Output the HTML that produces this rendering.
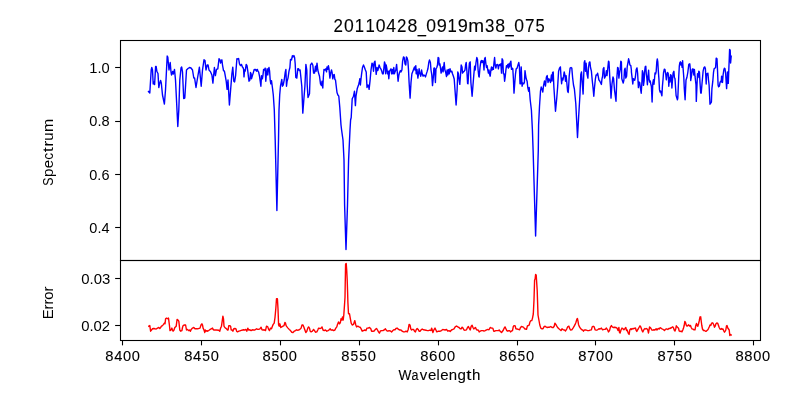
<!DOCTYPE html><html><head><meta charset="utf-8"><title>20110428_0919m38_075</title><style>html,body{margin:0;padding:0;background:#fff;overflow:hidden;}svg{display:block;}text{font-family:"Liberation Sans",sans-serif;fill:#000;}</style></head><body>
<svg width="800" height="400" viewBox="0 0 800 400" style="will-change:transform">
<rect width="800" height="400" fill="#fff"/>
<defs><clipPath id="c1"><rect x="120" y="40" width="640" height="220"/></clipPath><clipPath id="c2"><rect x="120" y="260" width="640" height="80"/></clipPath></defs>
<polyline clip-path="url(#c1)" fill="none" stroke="#0000ff" stroke-width="1.4" stroke-linejoin="round" stroke-linecap="square" points="148.5,91.5 149.8,93.0 151.2,70.0 151.8,67.5 152.5,70.0 153.2,84.0 154.0,82.0 154.6,84.5 155.6,66.5 156.2,66.5 156.9,71.5 158.0,73.5 158.8,87.5 159.5,84.0 160.6,80.5 161.3,83.0 162.5,95.0 164.4,104.0 165.5,90.0 167.2,56.0 167.8,57.0 169.0,70.0 170.2,62.5 171.0,72.0 171.5,75.0 172.6,71.5 173.3,74.0 174.5,69.5 175.5,80.0 176.5,100.0 177.8,126.5 178.8,110.0 179.8,80.0 181.0,68.0 181.7,67.0 182.5,72.0 183.7,98.5 184.8,98.0 185.6,85.0 186.5,70.0 188.0,68.5 189.5,67.5 191.0,68.0 192.5,70.0 193.8,78.0 194.6,78.0 196.0,87.5 197.2,80.0 199.4,67.2 201.2,86.2 202.5,70.0 204.0,59.8 205.0,60.6 206.0,70.0 207.2,65.0 208.1,65.0 209.0,70.0 210.6,71.9 211.9,75.0 212.9,83.1 214.4,67.5 215.4,75.6 216.5,69.4 217.8,68.8 219.0,58.8 220.0,60.0 220.6,63.0 221.9,59.8 222.5,65.0 223.5,70.6 224.4,71.2 225.0,74.4 226.2,81.2 227.1,89.4 228.0,80.0 229.4,105.0 231.9,73.8 232.8,67.2 233.8,81.2 234.6,81.9 235.6,75.6 236.9,58.8 237.9,59.0 238.6,58.5 239.5,63.8 240.5,65.6 241.5,64.4 242.4,66.9 243.0,67.5 243.6,69.4 244.0,76.9 244.6,70.0 245.2,71.2 246.2,64.4 247.0,65.6 247.8,71.2 248.5,77.5 249.0,81.2 249.9,80.0 250.5,72.5 251.1,73.8 251.5,78.8 252.4,75.6 253.2,73.1 254.2,69.4 255.1,70.0 255.8,69.4 256.5,71.2 257.4,69.4 258.0,71.2 258.6,71.9 259.5,76.2 260.2,81.2 260.9,86.2 261.5,75.6 262.4,78.8 263.0,75.0 263.6,69.4 264.5,70.0 265.2,68.1 265.8,81.2 266.5,72.5 267.1,68.8 267.8,75.0 268.4,69.4 269.0,67.5 269.6,71.2 270.2,80.0 270.8,83.8 271.5,80.6 272.4,87.5 273.3,95.0 274.3,110.0 275.2,140.0 276.9,210.5 278.5,140.0 279.0,110.0 279.7,95.0 280.5,86.0 281.8,79.4 282.4,86.2 283.2,85.0 284.2,80.0 285.2,72.5 285.9,69.4 286.5,86.2 287.1,81.2 288.0,78.1 289.0,71.2 289.9,67.5 290.5,59.4 291.5,60.0 292.4,55.6 293.0,56.9 293.9,55.6 294.6,57.5 295.2,63.8 295.8,77.5 296.8,78.1 297.8,68.8 298.6,68.8 299.2,70.6 300.1,70.0 300.9,77.5 301.8,86.2 302.8,113.1 304.0,97.5 304.9,86.2 305.9,64.4 306.8,70.0 307.2,85.0 308.0,97.5 309.5,93.8 310.5,65.0 311.8,63.1 312.8,65.0 313.6,73.1 314.5,73.1 315.5,66.2 316.1,71.2 317.0,63.1 317.8,70.0 318.6,73.1 319.5,76.2 320.5,83.8 321.5,85.6 322.0,81.2 322.8,88.0 323.4,76.2 324.0,69.4 324.9,70.0 325.8,68.8 326.5,71.9 327.0,66.9 327.8,69.4 328.4,65.6 329.0,68.8 329.9,78.1 330.5,73.8 331.5,70.0 332.1,72.5 332.8,78.8 333.6,75.0 334.2,74.4 334.9,79.4 335.5,80.0 336.2,86.0 337.0,92.5 337.9,95.0 338.8,96.2 339.8,107.5 341.0,125.0 341.6,130.0 343.0,140.0 344.0,160.0 344.6,205.0 346.0,249.5 347.5,205.0 348.6,160.0 350.0,130.0 350.6,120.0 351.2,117.5 352.2,98.8 353.5,96.2 354.5,91.2 355.4,105.6 356.0,96.2 357.2,88.8 358.5,85.0 359.1,83.0 359.8,78.8 360.4,85.0 361.0,79.0 361.6,73.8 362.5,67.5 363.5,65.0 364.5,67.5 365.4,70.0 366.2,71.9 367.0,87.5 367.9,85.0 368.5,85.6 369.1,89.4 370.0,81.2 371.0,70.0 372.0,63.1 372.9,64.4 373.5,71.2 374.2,62.5 375.0,61.2 375.8,70.0 376.2,74.4 377.0,67.5 377.8,70.6 378.5,68.1 379.1,65.0 380.0,67.5 380.8,68.8 381.6,70.6 382.5,73.8 383.2,73.8 383.9,68.1 384.5,61.9 385.1,63.8 385.6,73.8 386.2,65.0 386.9,68.8 387.5,73.8 388.2,71.2 388.8,78.8 389.5,71.2 390.4,70.0 391.0,68.8 391.6,73.8 392.5,69.4 393.1,73.8 393.8,67.5 394.4,73.8 395.0,71.9 395.8,70.0 396.6,64.4 397.2,71.2 398.1,81.2 398.9,75.0 399.5,72.5 400.4,70.6 401.0,71.9 401.9,70.0 402.6,61.2 403.5,56.9 404.2,57.5 405.0,63.8 405.8,65.0 406.4,56.9 407.2,58.1 407.9,61.2 408.5,70.0 409.1,82.5 410.1,98.1 411.0,82.5 411.9,73.8 412.9,71.2 413.8,68.8 414.5,66.9 415.1,70.0 415.8,65.6 416.2,73.8 417.0,69.4 417.9,78.1 418.5,73.8 419.1,68.8 420.0,73.8 420.8,76.2 421.6,70.0 422.2,73.8 423.1,76.2 423.9,75.0 424.8,75.6 425.5,76.9 426.2,74.4 427.0,71.9 427.9,68.8 428.8,62.5 429.5,60.0 430.4,62.5 431.0,70.0 431.8,75.0 432.5,85.6 433.2,78.8 433.9,68.1 434.5,68.0 435.4,82.5 436.0,68.8 436.8,67.5 437.5,65.0 438.1,57.5 438.8,58.1 439.2,65.0 439.9,63.8 440.5,68.1 441.1,73.1 441.8,70.0 442.5,66.9 443.1,71.9 443.8,65.6 444.2,62.5 444.9,70.0 445.6,71.9 446.5,76.5 447.1,70.0 447.8,75.0 448.5,69.4 449.2,73.8 450.0,68.8 450.9,71.9 451.8,71.2 452.5,73.8 453.4,76.2 454.2,79.0 455.0,90.0 456.1,105.0 457.1,90.0 457.8,71.9 458.4,73.8 459.0,78.8 459.8,84.4 460.5,75.0 461.2,65.0 462.0,66.9 462.5,73.1 463.4,71.9 464.2,71.2 465.0,70.0 465.6,65.0 466.2,62.5 466.9,71.2 467.6,83.5 468.0,83.8 468.8,70.0 469.4,63.1 470.2,61.9 470.9,82.5 472.1,96.2 473.0,85.0 473.8,75.0 474.6,66.2 475.2,70.0 476.0,62.5 476.8,57.5 477.5,59.4 478.1,70.0 478.8,76.5 479.2,76.9 480.0,67.5 480.9,61.2 481.5,60.6 482.1,62.5 482.8,60.6 483.4,61.9 484.0,70.0 484.6,58.8 485.2,57.5 485.9,63.8 486.5,67.5 487.1,65.6 487.8,70.0 488.4,73.1 489.0,70.0 489.6,74.4 490.2,76.2 490.9,70.0 491.5,66.9 492.1,70.0 492.8,67.5 493.4,69.4 494.0,62.5 494.6,57.5 495.2,65.0 495.9,68.1 496.5,65.0 497.1,64.4 497.8,65.0 498.4,68.8 499.0,65.0 499.6,64.4 500.2,65.6 500.9,63.8 501.5,73.1 502.1,58.8 502.8,60.0 503.4,73.8 504.0,73.8 504.6,81.2 505.2,76.9 505.9,70.0 506.5,65.6 507.1,66.9 507.8,64.4 508.4,68.1 509.0,63.8 509.6,66.9 510.2,62.5 510.9,61.2 511.5,69.4 512.1,68.1 512.8,68.8 513.4,78.8 514.0,93.1 514.8,82.5 515.5,73.8 516.2,68.8 517.1,68.1 518.0,65.0 518.8,62.5 519.4,66.2 520.0,83.8 520.6,83.8 521.2,66.9 521.9,82.5 522.1,86.2 522.9,83.0 523.8,83.8 524.4,82.5 525.0,70.6 525.6,75.0 526.2,78.8 527.1,81.2 527.8,87.5 528.6,91.2 529.2,87.5 530.2,100.0 531.4,110.0 532.4,130.0 533.1,150.0 535.6,236.0 538.3,150.0 538.6,125.0 539.5,106.2 540.5,91.0 541.2,87.0 542.0,89.0 542.8,92.0 543.5,86.0 544.5,81.0 545.5,86.0 546.4,77.0 547.2,75.6 548.0,82.5 548.9,78.8 549.8,80.6 550.5,82.5 551.4,75.0 552.0,81.0 552.6,72.5 553.2,71.9 553.9,87.5 555.5,111.2 556.8,97.5 557.6,87.5 557.9,82.5 558.6,71.2 559.5,68.1 560.4,66.9 561.0,76.2 561.6,83.8 562.2,78.1 562.9,80.0 563.6,76.2 564.2,71.9 564.9,75.0 565.5,81.2 566.1,75.6 566.8,82.5 567.6,91.2 568.2,92.5 568.6,87.5 569.2,76.2 570.1,68.1 571.0,67.5 571.8,68.1 572.6,77.5 573.5,85.0 574.4,89.0 575.8,103.8 577.5,137.5 578.6,117.5 580.0,94.0 580.4,83.8 580.8,74.4 581.5,71.9 582.2,82.5 583.1,94.1 583.6,78.8 584.2,62.5 584.8,60.6 585.5,71.2 586.1,63.1 587.0,73.8 587.9,78.1 588.5,67.5 589.2,62.5 589.9,61.9 590.5,67.5 591.4,71.2 592.2,80.0 593.0,87.5 593.8,96.2 594.5,87.5 595.4,78.8 596.1,75.0 597.0,75.0 597.6,73.1 598.2,76.2 598.9,80.0 599.5,80.6 600.5,82.5 601.4,84.4 602.0,78.8 602.6,76.2 603.2,68.8 603.9,67.5 604.5,78.1 605.1,76.9 605.8,75.0 606.4,70.6 607.0,75.6 607.6,70.0 608.5,61.2 609.0,61.9 609.8,77.5 610.5,87.5 611.0,98.1 612.0,83.8 613.0,76.9 613.6,78.8 614.5,90.0 616.0,101.2 616.8,78.8 617.6,67.5 618.2,68.1 618.9,78.1 619.5,73.1 620.2,69.4 620.8,61.2 621.4,61.9 621.8,78.8 622.6,81.2 623.2,83.1 623.9,80.0 624.5,70.0 625.1,68.1 625.8,78.1 626.6,76.2 627.2,66.9 628.0,62.5 628.6,58.8 629.2,61.2 629.9,65.0 630.8,65.6 631.4,70.0 631.4,71.9 632.2,78.6 632.8,84.0 633.4,78.6 634.0,79.5 634.7,80.3 635.4,77.0 636.2,69.6 637.0,67.9 637.6,73.0 638.4,87.6 639.0,82.0 639.7,82.5 640.4,87.6 641.2,93.2 641.8,84.2 642.4,70.8 643.0,73.0 643.5,85.4 644.1,80.9 644.6,71.9 645.2,66.8 645.8,66.2 646.3,74.1 646.9,78.6 647.4,84.8 648.0,76.4 648.6,70.2 649.1,79.2 649.7,82.0 650.2,80.9 650.8,84.0 651.4,86.5 652.1,102.0 652.8,83.1 653.4,79.8 654.0,84.2 654.5,79.0 655.0,73.0 655.6,74.0 656.2,71.3 656.8,61.8 657.3,58.9 657.8,61.8 658.3,70.8 658.9,78.6 659.5,89.9 660.1,92.1 660.7,91.0 661.2,93.2 661.9,95.8 662.4,86.5 663.0,79.8 663.5,73.0 664.3,69.1 665.0,69.6 665.8,74.7 666.3,79.8 666.9,75.0 667.5,72.4 668.2,73.5 668.8,86.2 669.4,77.5 670.0,82.0 670.5,74.7 671.2,75.2 671.9,88.0 672.4,80.9 673.1,73.0 673.9,71.3 674.4,77.5 675.0,78.6 675.5,86.5 676.1,95.5 677.4,99.8 677.8,98.0 678.2,88.8 678.7,77.5 679.3,66.2 679.8,62.9 680.4,61.8 681.0,65.1 681.5,62.9 682.1,67.4 682.6,60.6 683.1,68.5 683.8,77.5 684.3,88.8 685.1,99.8 686.0,80.0 686.9,77.5 687.8,72.5 688.8,64.4 689.8,63.8 690.4,70.0 690.7,80.6 691.5,76.0 692.2,69.4 693.0,68.8 693.8,75.0 694.4,69.4 695.0,76.2 696.0,85.0 696.3,101.4 697.5,73.8 698.1,77.5 698.8,71.2 699.4,71.9 700.0,82.5 700.7,93.0 701.2,93.1 702.1,82.5 703.1,71.2 704.0,67.5 704.8,66.9 705.4,68.8 706.2,84.0 706.6,73.8 707.2,75.0 707.9,73.1 708.5,80.0 709.1,85.0 710.0,104.2 711.4,102.0 711.9,88.8 712.8,81.2 713.5,72.5 714.1,68.8 715.0,68.1 715.6,67.5 716.2,58.1 717.0,58.8 717.5,70.0 718.1,85.0 718.6,86.8 719.4,86.2 720.0,82.5 720.6,81.2 721.2,81.9 721.6,76.2 722.1,81.8 722.5,82.5 723.1,75.0 723.8,70.0 724.4,68.1 725.0,68.8 725.6,73.1 726.2,82.5 726.6,88.6 727.1,81.0 727.5,71.9 727.9,76.0 728.3,83.4 728.8,70.0 729.1,62.5 729.6,49.5 730.2,50.2 730.6,63.0 731.2,56.2"/>
<polyline clip-path="url(#c2)" fill="none" stroke="#ff0000" stroke-width="1.4" stroke-linejoin="round" stroke-linecap="square" points="148.8,326.2 149.8,325.6 150.6,331.2 151.5,330.0 152.5,328.8 153.8,328.5 155.0,328.8 156.2,329.0 157.5,328.1 158.8,327.5 159.8,328.5 160.6,327.5 161.5,326.2 162.5,325.6 163.5,324.4 164.4,323.1 165.0,323.8 165.6,318.8 166.5,318.1 167.5,318.8 168.5,318.1 169.4,325.0 170.0,330.6 171.0,330.0 171.9,328.1 172.5,330.0 173.1,331.2 174.0,330.0 174.8,327.5 175.6,326.9 176.2,326.2 177.1,319.4 177.9,320.0 178.8,321.2 179.8,330.0 180.6,331.2 181.9,330.6 182.5,327.5 183.1,325.6 184.4,325.0 185.6,325.0 186.5,330.0 187.5,329.4 188.5,330.6 189.4,330.0 190.4,331.2 191.2,329.4 192.5,328.1 193.8,327.5 195.0,328.8 197.5,328.8 200.0,328.1 201.0,325.0 201.9,323.8 202.5,325.0 203.1,328.1 204.0,330.0 204.8,332.5 205.2,330.0 206.0,331.2 207.0,330.6 207.5,331.2 208.5,330.6 209.4,330.0 210.2,329.4 211.2,328.8 212.5,328.1 213.1,329.4 213.8,330.0 216.2,330.0 218.8,330.2 219.8,331.2 220.6,328.1 221.5,326.2 222.2,321.2 222.9,316.2 223.5,318.8 224.0,326.2 224.8,327.5 225.6,328.1 226.5,328.8 227.5,330.0 228.1,330.0 228.8,325.6 229.8,325.6 230.6,326.2 231.2,330.0 232.2,330.0 232.9,331.2 233.8,328.8 235.0,328.5 236.0,328.8 236.6,331.2 237.5,331.9 238.8,331.2 240.0,330.8 241.8,330.2 243.6,329.8 244.9,330.0 245.8,329.4 246.8,331.2 247.8,328.1 248.6,330.0 249.9,329.8 251.1,330.6 252.4,329.8 253.6,330.0 254.9,330.0 256.5,328.8 257.8,329.4 258.6,329.4 259.9,328.8 261.1,327.2 262.0,329.8 263.0,330.0 264.2,329.8 265.5,330.6 266.5,326.2 267.8,326.9 268.6,329.4 269.5,330.6 270.5,328.1 271.5,328.8 272.4,326.2 273.2,324.4 274.2,323.1 275.0,317.5 275.8,308.8 276.5,298.8 277.4,298.8 278.0,308.8 278.6,325.0 279.2,326.2 279.9,323.8 280.8,327.5 281.8,326.9 283.0,326.2 284.0,325.6 284.9,322.5 285.5,323.1 286.1,325.6 287.0,326.9 288.0,328.1 289.2,329.4 290.5,330.6 291.8,332.2 293.0,332.5 294.2,331.2 295.5,330.6 296.5,329.8 297.4,330.2 298.6,330.0 299.9,329.4 301.1,328.1 302.0,325.0 303.0,325.0 304.0,327.5 304.9,330.0 305.8,332.5 306.8,331.2 307.8,328.1 308.6,326.9 309.5,328.1 310.2,331.2 311.1,331.9 312.4,331.2 313.6,329.4 314.5,330.6 315.5,332.2 316.8,331.9 317.8,330.0 318.6,328.1 319.9,328.5 321.1,328.1 322.0,326.9 323.0,330.0 324.2,330.6 325.5,330.0 326.8,331.2 328.0,330.6 329.2,329.8 330.2,328.8 331.1,330.2 332.4,329.8 333.6,330.6 334.9,330.0 335.8,328.1 336.8,326.9 337.5,324.4 338.5,321.9 339.5,323.8 340.4,322.5 341.0,318.8 341.9,320.0 342.5,316.9 343.2,320.0 343.8,315.0 344.5,305.0 345.0,297.5 345.2,285.0 345.6,264.0 346.2,263.5 346.7,270.0 347.2,280.0 347.6,292.0 347.9,302.5 348.5,313.8 349.5,313.8 350.4,318.8 351.2,323.1 352.2,325.0 353.5,324.4 354.8,320.6 355.8,325.0 356.6,326.9 357.8,326.2 359.1,326.9 360.4,327.5 361.4,329.4 362.2,331.2 363.5,330.6 364.8,330.0 366.0,330.6 367.0,328.1 368.2,328.1 369.5,327.5 370.8,328.8 371.6,331.2 372.9,331.2 374.1,331.0 375.4,329.4 376.6,328.5 377.5,330.0 378.5,331.9 379.4,333.1 380.4,331.0 381.6,330.6 382.9,330.6 384.1,330.0 385.4,328.8 386.6,330.6 387.9,331.2 389.1,330.6 390.4,331.0 391.6,331.9 392.9,330.6 393.8,329.8 395.0,329.8 396.0,328.5 397.2,328.1 398.5,329.4 399.8,330.0 401.0,330.0 402.2,331.2 403.5,331.9 404.8,331.9 406.0,331.2 407.2,331.9 408.2,329.4 409.1,324.4 410.0,325.0 410.8,328.8 411.6,330.0 412.5,329.4 413.5,329.4 414.5,331.2 415.4,331.9 416.2,329.8 417.2,328.5 418.2,329.4 419.1,331.2 420.0,331.2 421.0,330.0 422.2,329.0 423.5,329.8 424.8,330.0 426.0,330.2 427.2,330.6 428.5,330.6 429.8,330.2 431.0,330.6 431.6,328.1 432.2,329.8 432.9,332.5 433.8,330.0 434.5,328.8 435.0,328.1 435.9,330.0 436.8,331.9 438.5,331.2 440.2,331.2 441.5,330.6 442.8,329.4 444.0,329.8 445.2,330.0 446.5,329.4 447.8,331.2 449.0,330.6 450.2,331.5 451.5,330.0 452.8,329.4 454.0,328.8 455.2,326.9 456.5,326.0 457.8,326.9 459.0,327.5 460.2,328.8 461.2,328.8 462.1,327.2 463.0,328.1 464.0,330.0 465.2,330.2 466.5,329.8 467.5,327.5 468.4,326.5 469.2,328.1 470.2,330.0 471.2,326.2 472.1,325.2 473.0,327.5 473.8,329.0 474.6,328.1 475.5,327.5 476.5,329.8 477.5,330.0 478.4,330.2 479.2,331.9 480.2,331.2 481.5,330.6 482.8,330.6 484.0,331.0 485.2,330.6 486.5,329.8 487.8,329.4 489.0,329.8 490.2,327.5 491.5,328.1 492.8,328.1 493.8,331.2 494.6,331.2 495.9,330.6 497.1,330.6 498.4,330.6 499.2,330.0 500.2,331.2 501.5,332.5 502.5,331.2 503.4,330.0 504.2,328.1 505.0,326.9 505.9,328.8 506.8,330.6 507.8,331.2 508.8,330.6 509.6,330.6 510.5,331.9 511.5,331.0 512.5,330.6 513.4,326.2 514.2,325.6 515.2,326.0 515.9,328.8 517.1,329.0 518.4,329.4 519.6,329.8 520.5,327.5 521.5,326.5 522.8,326.9 523.8,327.5 524.6,328.8 525.5,329.0 526.5,329.4 527.5,325.6 528.4,325.6 529.2,325.0 530.0,321.9 530.9,320.6 531.8,320.6 532.5,318.1 533.3,314.0 534.0,300.0 534.6,280.0 535.1,279.0 535.6,274.5 536.2,275.0 537.2,290.5 538.0,315.0 538.9,320.0 539.8,325.0 540.8,328.1 542.0,328.8 543.0,328.8 543.9,326.9 545.1,326.2 546.0,326.9 547.0,327.5 548.2,327.2 549.5,327.2 550.8,326.5 552.0,327.5 553.2,327.5 554.2,326.2 554.9,323.1 555.8,324.4 556.8,326.2 557.6,327.5 558.9,328.8 560.1,329.8 561.0,330.6 562.0,328.8 563.2,329.8 564.5,330.0 565.5,331.0 566.8,328.8 567.6,326.9 568.9,326.2 569.5,328.1 570.5,330.0 571.8,329.8 573.0,328.1 574.2,326.2 575.1,324.4 576.0,322.2 576.8,319.4 577.4,318.5 578.0,321.2 578.5,324.4 579.5,326.9 580.8,328.8 581.8,329.8 582.6,330.0 583.5,331.2 584.2,330.2 585.1,329.8 586.4,330.2 587.6,330.6 588.9,330.6 590.1,330.2 591.4,329.8 592.2,326.9 593.2,326.2 594.2,326.9 595.1,329.8 596.4,330.2 597.6,329.8 598.9,328.8 600.1,329.0 601.4,328.1 602.6,329.8 603.9,329.4 605.1,329.4 606.4,328.1 607.6,329.8 608.5,331.9 609.5,330.6 610.5,326.9 611.4,325.6 612.2,326.9 613.2,327.5 614.5,327.2 615.8,327.5 617.0,328.1 618.0,330.6 618.9,327.5 619.5,332.5 620.1,333.1 621.0,330.0 622.0,328.1 623.0,328.8 623.9,329.8 624.8,328.8 625.8,327.5 626.6,330.6 627.2,330.0 628.2,333.1 629.1,334.4 629.8,330.0 630.8,328.8 631.5,329.5 632.2,328.5 633.0,329.0 634.0,328.2 635.0,328.5 635.5,328.0 636.2,330.5 636.8,331.5 637.5,330.0 638.2,329.0 639.0,327.5 640.0,325.8 640.8,327.0 641.5,329.0 642.2,331.0 642.8,332.0 643.5,330.5 644.2,329.2 645.0,328.5 645.8,329.0 646.5,328.5 647.2,329.0 647.8,330.0 648.5,333.0 649.0,330.0 649.6,327.0 650.2,327.5 651.0,328.5 651.8,330.0 652.5,330.2 653.5,329.8 654.5,330.0 655.5,329.5 656.2,328.8 657.0,330.0 657.8,328.8 658.5,328.5 659.2,329.0 660.0,327.8 660.8,328.0 661.8,328.8 662.8,329.2 663.8,330.0 664.5,330.5 665.2,329.5 666.0,329.0 667.0,329.0 667.8,329.5 668.8,328.5 669.8,328.5 670.8,328.0 671.8,327.5 672.8,326.8 673.5,327.8 674.2,330.0 675.0,331.0 675.7,329.0 676.3,325.8 677.0,326.8 677.8,327.5 678.5,328.2 679.2,331.0 680.0,331.5 681.0,331.2 682.0,331.8 682.8,330.0 683.5,328.0 684.2,325.5 684.8,321.5 685.5,322.5 686.2,325.0 687.0,326.2 688.0,325.5 688.5,324.8 689.5,326.0 690.5,325.5 691.2,327.5 692.0,328.8 693.0,329.2 694.0,329.8 695.0,329.8 695.8,325.5 696.5,323.5 697.2,325.5 697.8,326.2 698.5,324.0 699.2,321.0 700.0,317.0 700.7,316.8 701.2,321.0 701.8,325.5 702.5,329.0 703.5,330.5 704.5,330.5 705.5,331.2 706.2,331.2 707.0,330.5 707.8,329.8 708.5,328.5 709.2,327.0 710.0,325.0 710.8,325.5 711.5,323.5 712.2,322.8 713.0,323.2 713.8,325.0 714.5,327.2 715.2,326.2 715.8,324.0 716.8,323.0 717.8,323.5 718.5,325.5 719.2,327.5 720.0,329.0 720.8,329.2 721.5,328.5 722.2,329.2 723.0,329.0 723.8,331.0 724.5,332.2 725.2,331.2 725.8,330.0 726.5,325.8 727.0,325.5 727.8,328.0 728.5,329.0 729.2,330.0 729.8,335.5 730.5,334.5 731.2,335.0"/>
<g fill="none" stroke="#000" stroke-width="1.1" stroke-linecap="square">
<rect x="120.5" y="40.5" width="640" height="220"/>
<rect x="120.5" y="260.5" width="640" height="80"/>
</g>
<g stroke="#000" stroke-width="1.1">
<line x1="122.50" y1="340.5" x2="122.50" y2="345.36"/>
<line x1="201.50" y1="340.5" x2="201.50" y2="345.36"/>
<line x1="280.50" y1="340.5" x2="280.50" y2="345.36"/>
<line x1="359.50" y1="340.5" x2="359.50" y2="345.36"/>
<line x1="438.50" y1="340.5" x2="438.50" y2="345.36"/>
<line x1="517.50" y1="340.5" x2="517.50" y2="345.36"/>
<line x1="595.50" y1="340.5" x2="595.50" y2="345.36"/>
<line x1="674.50" y1="340.5" x2="674.50" y2="345.36"/>
<line x1="753.50" y1="340.5" x2="753.50" y2="345.36"/>
<line x1="115.14" y1="67.50" x2="120.5" y2="67.50"/>
<line x1="115.14" y1="121.50" x2="120.5" y2="121.50"/>
<line x1="115.14" y1="174.50" x2="120.5" y2="174.50"/>
<line x1="115.14" y1="227.50" x2="120.5" y2="227.50"/>
<line x1="115.14" y1="278.50" x2="120.5" y2="278.50"/>
<line x1="115.14" y1="325.50" x2="120.5" y2="325.50"/>
</g>
<text y="31.58" font-size="17.66" stroke="#000" stroke-width="0.1"><tspan x="333.61" textLength="9.42" lengthAdjust="spacingAndGlyphs">2</tspan><tspan x="344.12" textLength="9.77" lengthAdjust="spacingAndGlyphs">0</tspan><tspan x="354.78" textLength="9.33" lengthAdjust="spacingAndGlyphs">1</tspan><tspan x="365.40" textLength="9.33" lengthAdjust="spacingAndGlyphs">1</tspan><tspan x="375.87" textLength="9.77" lengthAdjust="spacingAndGlyphs">0</tspan><tspan x="386.30" textLength="9.77" lengthAdjust="spacingAndGlyphs">4</tspan><tspan x="396.99" textLength="9.42" lengthAdjust="spacingAndGlyphs">2</tspan><tspan x="407.43" textLength="9.88" lengthAdjust="spacingAndGlyphs">8</tspan><tspan x="417.64" textLength="8.27" lengthAdjust="spacingAndGlyphs">_</tspan><tspan x="426.37" textLength="9.77" lengthAdjust="spacingAndGlyphs">0</tspan><tspan x="436.73" textLength="10.09" lengthAdjust="spacingAndGlyphs">9</tspan><tspan x="447.53" textLength="9.33" lengthAdjust="spacingAndGlyphs">1</tspan><tspan x="457.85" textLength="10.09" lengthAdjust="spacingAndGlyphs">9</tspan><tspan x="468.25" textLength="15.82" lengthAdjust="spacingAndGlyphs">m</tspan><tspan x="485.10" textLength="9.38" lengthAdjust="spacingAndGlyphs">3</tspan><tspan x="495.31" textLength="9.88" lengthAdjust="spacingAndGlyphs">8</tspan><tspan x="505.51" textLength="8.27" lengthAdjust="spacingAndGlyphs">_</tspan><tspan x="514.24" textLength="9.77" lengthAdjust="spacingAndGlyphs">0</tspan><tspan x="524.96" textLength="9.56" lengthAdjust="spacingAndGlyphs">7</tspan><tspan x="535.54" textLength="9.22" lengthAdjust="spacingAndGlyphs">5</tspan></text>
<text transform="translate(52.73,152.49) rotate(-90)" font-size="14.58"><tspan x="-33.31" textLength="8.26" lengthAdjust="spacingAndGlyphs">S</tspan><tspan x="-24.54" textLength="8.40" lengthAdjust="spacingAndGlyphs">p</tspan><tspan x="-15.70" textLength="8.34" lengthAdjust="spacingAndGlyphs">e</tspan><tspan x="-7.27" textLength="6.97" lengthAdjust="spacingAndGlyphs">c</tspan><tspan x="0.17" textLength="5.16" lengthAdjust="spacingAndGlyphs">t</tspan><tspan x="5.76" textLength="5.93" lengthAdjust="spacingAndGlyphs">r</tspan><tspan x="11.77" textLength="8.33" lengthAdjust="spacingAndGlyphs">u</tspan><tspan x="20.38" textLength="13.18" lengthAdjust="spacingAndGlyphs">m</tspan></text>
<text transform="translate(52.74,302.92) rotate(-90)" font-size="14.50" text-anchor="middle" textLength="32.77" lengthAdjust="spacingAndGlyphs">Error</text>
<text y="379.82" font-size="14.58" stroke="#000" stroke-width="0.1"><tspan x="398.39" textLength="12.92" lengthAdjust="spacingAndGlyphs">W</tspan><tspan x="411.61" textLength="6.95" lengthAdjust="spacingAndGlyphs">a</tspan><tspan x="419.86" textLength="7.49" lengthAdjust="spacingAndGlyphs">v</tspan><tspan x="427.91" textLength="8.34" lengthAdjust="spacingAndGlyphs">e</tspan><tspan x="436.58" textLength="3.15" lengthAdjust="spacingAndGlyphs">l</tspan><tspan x="440.29" textLength="8.34" lengthAdjust="spacingAndGlyphs">e</tspan><tspan x="448.81" textLength="8.33" lengthAdjust="spacingAndGlyphs">n</tspan><tspan x="457.60" textLength="8.40" lengthAdjust="spacingAndGlyphs">g</tspan><tspan x="466.15" textLength="5.16" lengthAdjust="spacingAndGlyphs">t</tspan><tspan x="471.90" textLength="8.39" lengthAdjust="spacingAndGlyphs">h</tspan></text>
<text x="99.49" y="72.50" font-size="14.50" text-anchor="middle" textLength="20.40" lengthAdjust="spacingAndGlyphs">1.0</text>
<text x="99.44" y="125.67" font-size="14.50" text-anchor="middle" textLength="20.28" lengthAdjust="spacingAndGlyphs">0.8</text>
<text x="99.39" y="179.51" font-size="14.50" text-anchor="middle" textLength="20.14" lengthAdjust="spacingAndGlyphs">0.6</text>
<text x="99.43" y="232.62" font-size="14.50" text-anchor="middle" textLength="20.17" lengthAdjust="spacingAndGlyphs">0.4</text>
<text x="95.79" y="283.61" font-size="14.50" text-anchor="middle" textLength="29.03" lengthAdjust="spacingAndGlyphs">0.03</text>
<text x="95.68" y="330.55" font-size="14.50" text-anchor="middle" textLength="28.95" lengthAdjust="spacingAndGlyphs">0.02</text>
<text y="360.61" font-size="14.72" stroke="#000" stroke-width="0.1"><tspan x="105.38" textLength="8.23" lengthAdjust="spacingAndGlyphs">8</tspan><tspan x="114.25" textLength="8.14" lengthAdjust="spacingAndGlyphs">4</tspan><tspan x="123.06" textLength="8.14" lengthAdjust="spacingAndGlyphs">0</tspan><tspan x="131.81" textLength="8.14" lengthAdjust="spacingAndGlyphs">0</tspan></text>
<text y="360.57" font-size="14.72" stroke="#000" stroke-width="0.1"><tspan x="184.23" textLength="8.23" lengthAdjust="spacingAndGlyphs">8</tspan><tspan x="193.10" textLength="8.14" lengthAdjust="spacingAndGlyphs">4</tspan><tspan x="202.15" textLength="7.68" lengthAdjust="spacingAndGlyphs">5</tspan><tspan x="210.65" textLength="8.14" lengthAdjust="spacingAndGlyphs">0</tspan></text>
<text y="360.71" font-size="14.72" stroke="#000" stroke-width="0.1"><tspan x="262.43" textLength="8.23" lengthAdjust="spacingAndGlyphs">8</tspan><tspan x="271.60" textLength="7.68" lengthAdjust="spacingAndGlyphs">5</tspan><tspan x="280.10" textLength="8.14" lengthAdjust="spacingAndGlyphs">0</tspan><tspan x="288.85" textLength="8.14" lengthAdjust="spacingAndGlyphs">0</tspan></text>
<text y="360.65" font-size="14.72" stroke="#000" stroke-width="0.1"><tspan x="341.26" textLength="8.23" lengthAdjust="spacingAndGlyphs">8</tspan><tspan x="350.43" textLength="7.68" lengthAdjust="spacingAndGlyphs">5</tspan><tspan x="359.18" textLength="7.68" lengthAdjust="spacingAndGlyphs">5</tspan><tspan x="367.68" textLength="8.14" lengthAdjust="spacingAndGlyphs">0</tspan></text>
<text y="360.55" font-size="14.72" stroke="#000" stroke-width="0.1"><tspan x="420.34" textLength="8.23" lengthAdjust="spacingAndGlyphs">8</tspan><tspan x="429.07" textLength="8.43" lengthAdjust="spacingAndGlyphs">6</tspan><tspan x="438.14" textLength="8.14" lengthAdjust="spacingAndGlyphs">0</tspan><tspan x="446.89" textLength="8.14" lengthAdjust="spacingAndGlyphs">0</tspan></text>
<text y="360.52" font-size="14.72" stroke="#000" stroke-width="0.1"><tspan x="499.34" textLength="8.23" lengthAdjust="spacingAndGlyphs">8</tspan><tspan x="508.07" textLength="8.43" lengthAdjust="spacingAndGlyphs">6</tspan><tspan x="517.38" textLength="7.68" lengthAdjust="spacingAndGlyphs">5</tspan><tspan x="525.89" textLength="8.14" lengthAdjust="spacingAndGlyphs">0</tspan></text>
<text y="360.54" font-size="14.72" stroke="#000" stroke-width="0.1"><tspan x="578.24" textLength="8.23" lengthAdjust="spacingAndGlyphs">8</tspan><tspan x="587.35" textLength="7.97" lengthAdjust="spacingAndGlyphs">7</tspan><tspan x="595.91" textLength="8.14" lengthAdjust="spacingAndGlyphs">0</tspan><tspan x="604.66" textLength="8.14" lengthAdjust="spacingAndGlyphs">0</tspan></text>
<text y="360.68" font-size="14.72" stroke="#000" stroke-width="0.1"><tspan x="657.41" textLength="8.23" lengthAdjust="spacingAndGlyphs">8</tspan><tspan x="666.52" textLength="7.97" lengthAdjust="spacingAndGlyphs">7</tspan><tspan x="675.33" textLength="7.68" lengthAdjust="spacingAndGlyphs">5</tspan><tspan x="683.83" textLength="8.14" lengthAdjust="spacingAndGlyphs">0</tspan></text>
<text y="360.83" font-size="14.72" stroke="#000" stroke-width="0.1"><tspan x="735.52" textLength="8.23" lengthAdjust="spacingAndGlyphs">8</tspan><tspan x="744.39" textLength="8.23" lengthAdjust="spacingAndGlyphs">8</tspan><tspan x="753.32" textLength="8.14" lengthAdjust="spacingAndGlyphs">0</tspan><tspan x="762.07" textLength="8.14" lengthAdjust="spacingAndGlyphs">0</tspan></text>
</svg></body></html>
